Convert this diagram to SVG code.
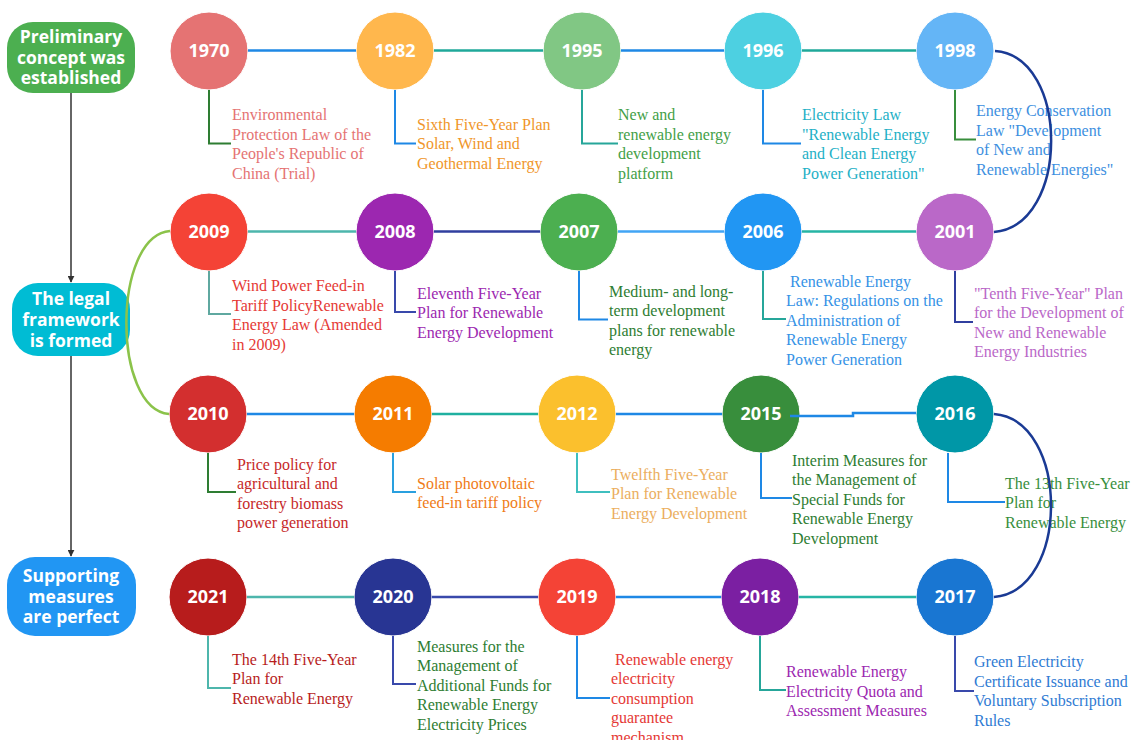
<svg xmlns="http://www.w3.org/2000/svg" width="1137" height="740" viewBox="0 0 1137 740">
<defs>
<marker id="arr" viewBox="0 0 10 10" refX="9" refY="5" markerWidth="7" markerHeight="7" orient="auto" markerUnits="userSpaceOnUse">
<path d="M0,0 L10,5 L0,10 z" fill="#333"/>
</marker>
</defs>
<style>
.box{font-family:"Open Sans","DejaVu Sans",sans-serif;font-weight:bold;font-size:17.5px;fill:#fff;text-anchor:middle}
.yr{font-family:"Open Sans","DejaVu Sans",sans-serif;font-weight:bold;font-size:18px;fill:#fff;text-anchor:middle}
.d{font-family:"Liberation Serif","Times New Roman",serif;font-size:16px}
.c{fill:none;stroke-width:2.5}
.ld{fill:none;stroke-width:2}
circle{stroke:#fff;stroke-width:1}
</style>
<rect width="1137" height="740" fill="#fff"/>

<g id="stage1">
<rect x="7" y="22" width="128" height="71" rx="26" fill="#4CAF50"/>
<text class="box" x="71" y="43">Preliminary</text>
<text class="box" x="71" y="64">concept was</text>
<text class="box" x="71" y="84">established</text>
</g>
<g id="stage2">
<rect x="12" y="283" width="118" height="73" rx="26" fill="#00BCD4"/>
<text class="box" x="71" y="305">The legal</text>
<text class="box" x="71" y="326">framework</text>
<text class="box" x="71" y="347">is formed</text>
</g>
<g id="stage3">
<rect x="7" y="557" width="129" height="79" rx="28" fill="#2196F3"/>
<text class="box" x="71" y="582">Supporting</text>
<text class="box" x="71" y="603">measures</text>
<text class="box" x="71" y="623">are perfect</text>
</g>

<g id="n1970"><circle cx="209" cy="51" r="39" fill="#E57373"/><text class="yr" x="209" y="57">1970</text>
<text class="d" fill="#E57373"><tspan x="232" y="120">Environmental</tspan><tspan x="232" y="139.5">Protection Law of the</tspan><tspan x="232" y="159">People's Republic of</tspan><tspan x="232" y="178.5">China (Trial)</tspan></text></g>
<g id="n1982"><circle cx="395" cy="51" r="39" fill="#FFB74D"/><text class="yr" x="395" y="57">1982</text>
<text class="d" fill="#F0962A"><tspan x="417" y="129.5">Sixth Five-Year Plan</tspan><tspan x="417" y="149">Solar, Wind and</tspan><tspan x="417" y="168.5">Geothermal Energy</tspan></text></g>
<g id="n1995"><circle cx="582" cy="51" r="39" fill="#81C784"/><text class="yr" x="582" y="57">1995</text>
<text class="d" fill="#43A047"><tspan x="618" y="120">New and</tspan><tspan x="618" y="139.5">renewable energy</tspan><tspan x="618" y="159">development</tspan><tspan x="618" y="178.5">platform</tspan></text></g>
<g id="n1996"><circle cx="763" cy="51" r="39" fill="#4DD0E1"/><text class="yr" x="763" y="57">1996</text>
<text class="d" fill="#1EB0C6"><tspan x="802" y="120">Electricity Law</tspan><tspan x="802" y="139.5">"Renewable Energy</tspan><tspan x="802" y="159">and Clean Energy</tspan><tspan x="802" y="178.5">Power Generation"</tspan></text></g>
<g id="n1998"><circle cx="955" cy="51" r="39" fill="#64B5F6"/><text class="yr" x="955" y="57">1998</text>
<text class="d" fill="#3D8FE0"><tspan x="976" y="116">Energy Conservation</tspan><tspan x="976" y="135.5">Law "Development</tspan><tspan x="976" y="155">of New and</tspan><tspan x="976" y="174.5">Renewable Energies"</tspan></text></g>

<g id="n2009"><circle cx="209" cy="232" r="39" fill="#F44336"/><text class="yr" x="209" y="238">2009</text>
<text class="d" fill="#E53935"><tspan x="232" y="291">Wind Power Feed-in</tspan><tspan x="232" y="310.5">Tariff PolicyRenewable</tspan><tspan x="232" y="330">Energy Law (Amended</tspan><tspan x="232" y="349.5">in 2009)</tspan></text></g>
<g id="n2008"><circle cx="395" cy="232" r="39" fill="#9C27B0"/><text class="yr" x="395" y="238">2008</text>
<text class="d" fill="#9C27B0"><tspan x="417" y="298.5">Eleventh Five-Year</tspan><tspan x="417" y="318">Plan for Renewable</tspan><tspan x="417" y="337.5">Energy Development</tspan></text></g>
<g id="n2007"><circle cx="579" cy="232" r="39" fill="#4CAF50"/><text class="yr" x="579" y="238">2007</text>
<text class="d" fill="#2E7D32"><tspan x="609" y="296.5">Medium- and long-</tspan><tspan x="609" y="316">term development</tspan><tspan x="609" y="335.5">plans for renewable</tspan><tspan x="609" y="355">energy</tspan></text></g>
<g id="n2006"><circle cx="763" cy="232" r="39" fill="#2196F3"/><text class="yr" x="763" y="238">2006</text>
<text class="d" fill="#3592E6"><tspan x="790" y="286.5">Renewable Energy</tspan><tspan x="786" y="306">Law: Regulations on the</tspan><tspan x="786" y="325.5">Administration of</tspan><tspan x="786" y="345">Renewable Energy</tspan><tspan x="786" y="364.5">Power Generation</tspan></text></g>
<g id="n2001"><circle cx="955" cy="232" r="39" fill="#BA68C8"/><text class="yr" x="955" y="238">2001</text>
<text class="d" fill="#BA68C8"><tspan x="974" y="298.5">"Tenth Five-Year" Plan</tspan><tspan x="974" y="318">for the Development of</tspan><tspan x="974" y="337.5">New and Renewable</tspan><tspan x="974" y="357">Energy Industries</tspan></text></g>

<g id="n2010"><circle cx="208" cy="414" r="39" fill="#D32F2F"/><text class="yr" x="208" y="420">2010</text>
<text class="d" fill="#C62828"><tspan x="237" y="469.5">Price policy for</tspan><tspan x="237" y="489">agricultural and</tspan><tspan x="237" y="508.5">forestry biomass</tspan><tspan x="237" y="528">power generation</tspan></text></g>
<g id="n2011"><circle cx="393" cy="414" r="39" fill="#F57C00"/><text class="yr" x="393" y="420">2011</text>
<text class="d" fill="#EF7B16"><tspan x="417" y="488.5">Solar photovoltaic</tspan><tspan x="417" y="508">feed-in tariff policy</tspan></text></g>
<g id="n2012"><circle cx="577" cy="414" r="39" fill="#FBC02D"/><text class="yr" x="577" y="420">2012</text>
<text class="d" fill="#EBAE5E"><tspan x="611" y="479.5">Twelfth Five-Year</tspan><tspan x="611" y="499">Plan for Renewable</tspan><tspan x="611" y="518.5">Energy Development</tspan></text></g>
<g id="n2015"><circle cx="761" cy="414" r="39" fill="#388E3C"/><text class="yr" x="761" y="420">2015</text>
<text class="d" fill="#2E7D32"><tspan x="792" y="465.5">Interim Measures for</tspan><tspan x="792" y="485">the Management of</tspan><tspan x="792" y="504.5">Special Funds for</tspan><tspan x="792" y="524">Renewable Energy</tspan><tspan x="792" y="543.5">Development</tspan></text></g>
<g id="n2016"><circle cx="955" cy="414" r="39" fill="#0097A7"/><text class="yr" x="955" y="420">2016</text>
<text class="d" fill="#388E3C"><tspan x="1005" y="488.5">The 13th Five-Year</tspan><tspan x="1005" y="508">Plan for</tspan><tspan x="1005" y="527.5">Renewable Energy</tspan></text></g>

<g id="n2021"><circle cx="208" cy="597" r="39" fill="#B71C1C"/><text class="yr" x="208" y="603">2021</text>
<text class="d" fill="#B71C1C"><tspan x="232" y="664.5">The 14th Five-Year</tspan><tspan x="232" y="684">Plan for</tspan><tspan x="232" y="703.5">Renewable Energy</tspan></text></g>
<g id="n2020"><circle cx="393" cy="597" r="39" fill="#283593"/><text class="yr" x="393" y="603">2020</text>
<text class="d" fill="#2E7D32"><tspan x="417" y="651.5">Measures for the</tspan><tspan x="417" y="671">Management of</tspan><tspan x="417" y="690.5">Additional Funds for</tspan><tspan x="417" y="710">Renewable Energy</tspan><tspan x="417" y="729.5">Electricity Prices</tspan></text></g>
<g id="n2019"><circle cx="577" cy="597" r="39" fill="#F44336"/><text class="yr" x="577" y="603">2019</text>
<text class="d" fill="#E53935"><tspan x="615" y="664.5">Renewable energy</tspan><tspan x="611" y="684">electricity</tspan><tspan x="611" y="703.5">consumption</tspan><tspan x="611" y="723">guarantee</tspan><tspan x="611" y="742.5">mechanism</tspan></text></g>
<g id="n2018"><circle cx="760" cy="597" r="39" fill="#7B1FA2"/><text class="yr" x="760" y="603">2018</text>
<text class="d" fill="#9C27B0"><tspan x="786" y="677">Renewable Energy</tspan><tspan x="786" y="696.5">Electricity Quota and</tspan><tspan x="786" y="716">Assessment Measures</tspan></text></g>
<g id="n2017"><circle cx="955" cy="597" r="39" fill="#1976D2"/><text class="yr" x="955" y="603">2017</text>
<text class="d" fill="#2F7BD3"><tspan x="974" y="667">Green Electricity</tspan><tspan x="974" y="686.5">Certificate Issuance and</tspan><tspan x="974" y="706">Voluntary Subscription</tspan><tspan x="974" y="725.5">Rules</tspan></text></g>

<g id="connectors">
<path d="M71,93 V282" stroke="#333" stroke-width="1.5" fill="none" marker-end="url(#arr)"/>
<path d="M71,356 V556" stroke="#333" stroke-width="1.5" fill="none" marker-end="url(#arr)"/>

<path class="c" stroke="#1E88E5" d="M248,50.5 H356"/>
<path class="c" stroke="#1FA89A" d="M434,50.5 H543"/>
<path class="c" stroke="#1E88E5" d="M621,50.5 H724"/>
<path class="c" stroke="#1FA89A" d="M802,50.5 H916"/>
<path class="c" stroke="#1A3A94" d="M995,51 C1070,56 1070,226 994,232"/>

<path class="c" stroke="#4DB6AC" d="M248,231.5 H356"/>
<path class="c" stroke="#303F9F" d="M434,231.5 H540"/>
<path class="c" stroke="#42A5F5" d="M618,231.5 H724"/>
<path class="c" stroke="#26B5A5" d="M802,231.5 H916"/>
<path class="c" stroke="#8BC34A" d="M170,231 C112,236 112,409 169,414"/>

<path class="c" stroke="#1E88E5" d="M247,414 H354"/>
<path class="c" stroke="#1FB0A0" d="M432,414 H538"/>
<path class="c" stroke="#1E88E5" d="M616,414 H722"/>
<path class="c" stroke="#1E88E5" d="M790,416 H853 V413 H916"/>
<path class="c" stroke="#1A3A94" d="M994,414 C1070,420 1070,591 994,597"/>

<path class="c" stroke="#4DB6AC" d="M247,597 H354"/>
<path class="c" stroke="#3949AB" d="M432,597 H538"/>
<path class="c" stroke="#1E88E5" d="M616,597 H721"/>
<path class="c" stroke="#26B5A5" d="M799,597 H916"/>

<path class="ld" stroke="#2E7D32" d="M209,90 V143.5 H231"/>
<path class="ld" stroke="#1E88E5" d="M395,90 V143.5 H416"/>
<path class="ld" stroke="#26A69A" d="M582,90 V143.5 H618"/>
<path class="ld" stroke="#1E88E5" d="M763,90 V143.5 H801"/>
<path class="ld" stroke="#388E3C" d="M955,90 V139.5 H976"/>

<path class="ld" stroke="#5FA8A0" d="M209,271 V314 H231"/>
<path class="ld" stroke="#3949AB" d="M395,271 V312 H416"/>
<path class="ld" stroke="#1E88E5" d="M579,271 V319.5 H608"/>
<path class="ld" stroke="#26A69A" d="M763,271 V319 H786"/>
<path class="ld" stroke="#303F9F" d="M955,271 V322 H973"/>

<path class="ld" stroke="#2E7D32" d="M208,453 V492 H236"/>
<path class="ld" stroke="#29A0DF" d="M393,453 V492 H416"/>
<path class="ld" stroke="#3FBFBF" d="M577,453 V492 H610"/>
<path class="ld" stroke="#1E88E5" d="M761,453 V498 H792"/>
<path class="ld" stroke="#1E88E5" d="M948,453 V502 H1005"/>

<path class="ld" stroke="#4DB6AC" d="M208,636 V688 H231"/>
<path class="ld" stroke="#3949AB" d="M393,636 V684 H416"/>
<path class="ld" stroke="#1E88E5" d="M577,636 V698 H610"/>
<path class="ld" stroke="#26A69A" d="M760,636 V690 H786"/>
<path class="ld" stroke="#3949AB" d="M955,636 V691 H974"/>
</g>
</svg>
